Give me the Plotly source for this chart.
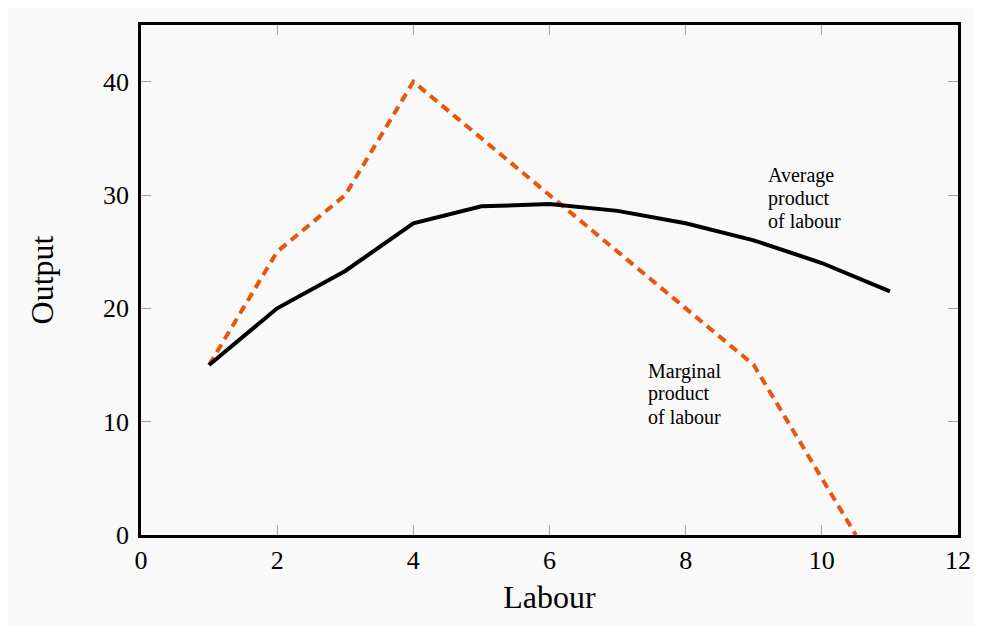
import plotly.graph_objects as go

# data
labour = [1, 2, 3, 4, 5, 6, 7, 8, 9, 10, 11]
average_product = [15, 20, 23.3, 27.5, 29, 29.2, 28.6, 27.5, 26, 24, 21.5]

labour_mp = [1, 2, 3, 4, 5, 6, 7, 8, 9, 10, 10.5]
marginal_product = [15, 25, 30, 40, 35, 30, 25, 20, 15, 5, 0]

x_ticks = [0, 2, 4, 6, 8, 10, 12]
y_ticks = [0, 10, 20, 30, 40]

avg_label = ["Average", "product", "of labour"]
avg_label_y = [31.7, 29.7, 27.7]
mp_label = ["Marginal", "product", "of labour"]
mp_label_y = [14.45, 12.45, 10.45]

serif = "Liberation Serif, Times New Roman, serif"
bg = "#f9f9f9"

fig = go.Figure()
fig.add_trace(go.Scatter(x=labour_mp, y=marginal_product, mode="lines",
                         line=dict(color="#e8560c", width=4, dash="9px,6px"),
                         showlegend=False))
fig.add_trace(go.Scatter(x=labour, y=average_product, mode="lines",
                         line=dict(color="black", width=4),
                         showlegend=False))

# curve labels, one annotation per line to keep the tight line spacing
for txt, yy in zip(avg_label, avg_label_y):
    fig.add_annotation(x=9.19, y=yy, xref="x", yref="y", xanchor="left", yanchor="middle",
                       text=txt, showarrow=False, borderpad=0,
                       font=dict(family=serif, size=20, color="black"))
for txt, yy in zip(mp_label, mp_label_y):
    fig.add_annotation(x=7.43, y=yy, xref="x", yref="y", xanchor="left", yanchor="middle",
                       text=txt, showarrow=False, borderpad=0,
                       font=dict(family=serif, size=20, color="black"))

axis_common = dict(showline=True, linecolor="black", linewidth=2.5, mirror="ticks",
                   ticks="inside", ticklen=10, tickcolor="#a0a0a0", tickwidth=1.2,
                   showgrid=False, zeroline=False,
                   tickfont=dict(family=serif, size=26, color="black"))

fig.update_xaxes(range=[0, 12], tickvals=x_ticks, ticktext=[str(v) for v in x_ticks],
                 title=dict(text="Labour", font=dict(family=serif, size=32, color="black"), standoff=12),
                 **axis_common)
fig.update_yaxes(range=[0, 45], tickvals=y_ticks, ticktext=[str(v) for v in y_ticks],
                 ticklabelstandoff=4,
                 title=dict(text="Output", font=dict(family=serif, size=32, color="black"), standoff=40),
                 **axis_common)

# page body adds 8px, so plot area lands at x 141..958, y 25..535
fig.update_layout(width=982, height=626, autosize=False,
                  margin=dict(l=133, r=32, t=17, b=99),
                  paper_bgcolor=bg, plot_bgcolor=bg)

fig.write_html("out.html")
